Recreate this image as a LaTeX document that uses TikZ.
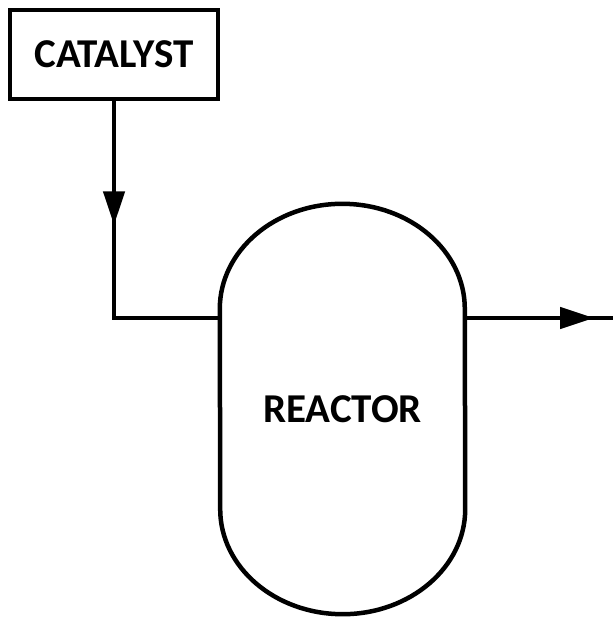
\documentclass[tikz,border=0pt]{standalone}
\usepackage{fontspec}
\setmainfont{Carlito}
\usetikzlibrary{arrows.meta,decorations.markings}
\begin{document}
\begin{tikzpicture}[x=1pt,y=-1pt,
  every node/.style={font=\fontsize{41}{44}\selectfont\bfseries},
  pipe/.style={line width=4.5pt},
  boxnode/.style={draw,line width=4.5pt,minimum width=208pt,minimum height=89pt,inner sep=0pt},
  vessel/.style={minimum width=245pt,minimum height=410pt,inner sep=0pt},
  flowtip/.style={decoration={markings,mark=at position #1 with {\arrow{Triangle[length=34pt,width=21pt]}}},postaction=decorate}
]
\useasboundingbox (0,0) rectangle (613,618);
\node[boxnode] (C) at (114,54.5) {CATALYST};
\node[vessel] (R) at (342.5,409) {REACTOR};
\draw[pipe,line join=round]
  ([yshift=-105pt]R.north west) arc[start angle=180,end angle=0,x radius=122.5pt,y radius=105pt]
  -- ([yshift=105pt]R.south east) arc[start angle=0,end angle=-180,x radius=122.5pt,y radius=105pt]
  -- cycle;
\coordinate (bend) at (C.south |- 0,318);
\coordinate (out) at (613,318);
\draw[pipe,flowtip=124pt] (C.south) -- (bend) -- (bend -| R.west);
\draw[pipe,flowtip=129pt] (bend -| R.east) -- (out);
\end{tikzpicture}
\end{document}
